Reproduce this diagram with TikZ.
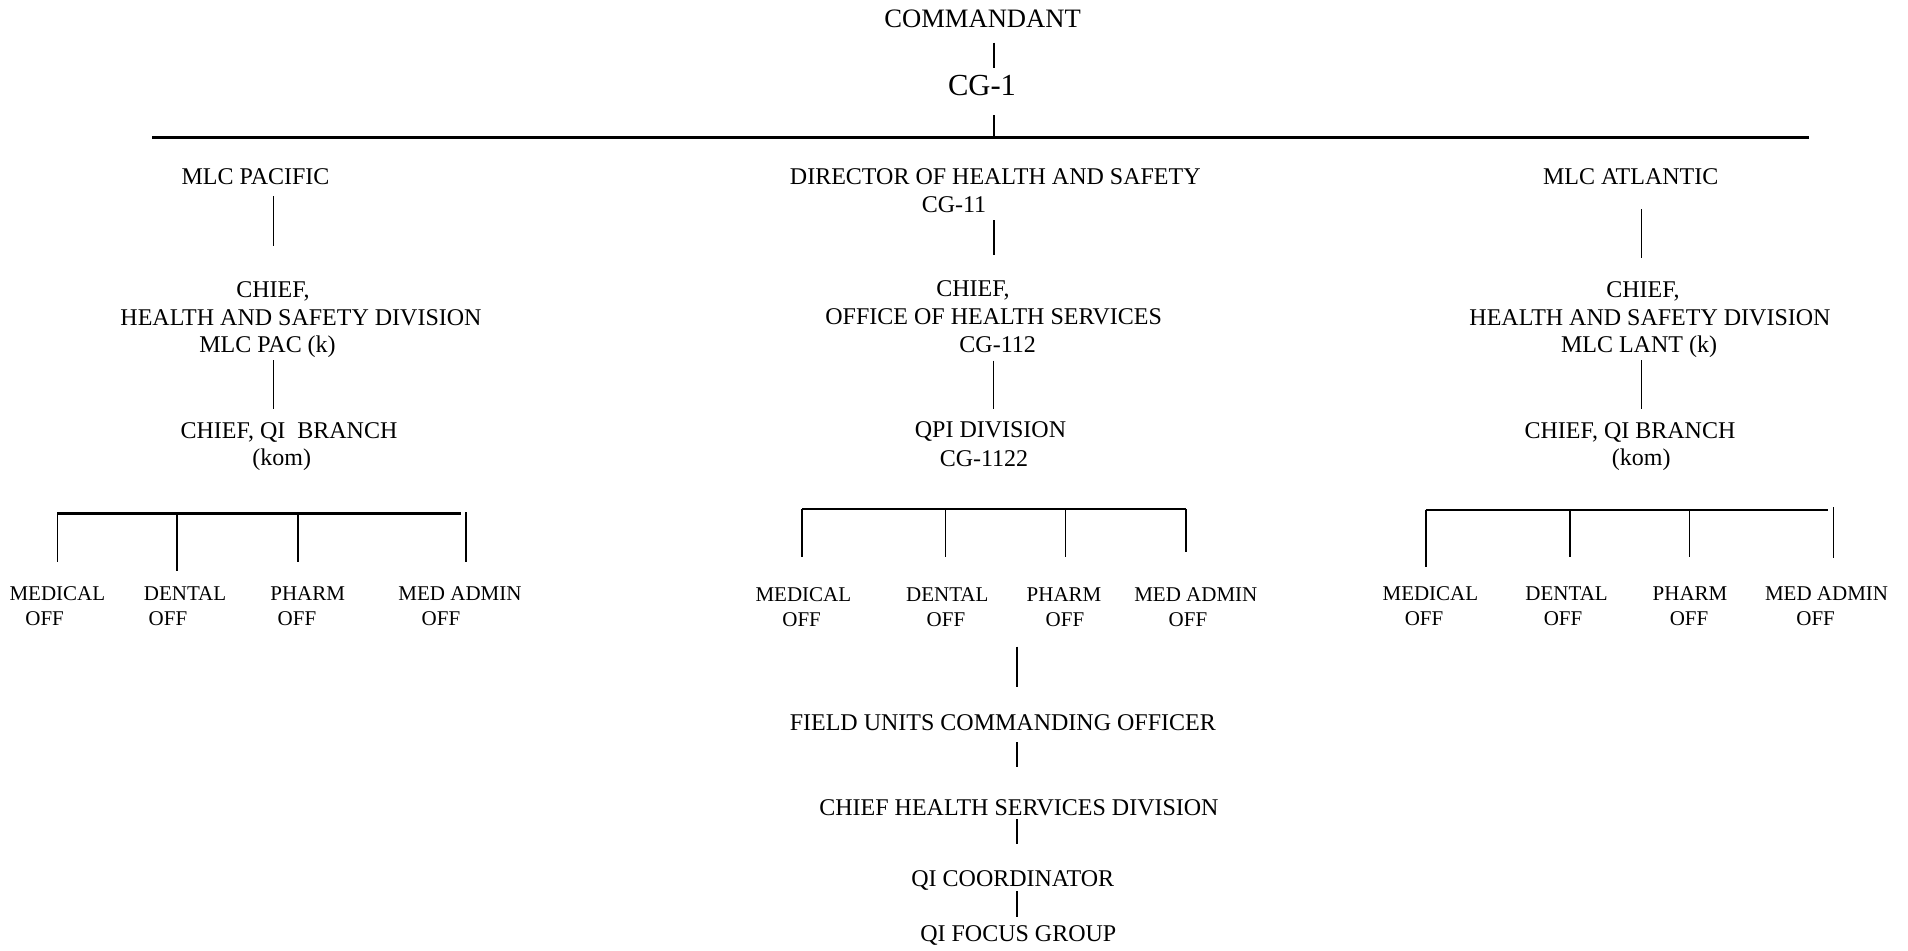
\documentclass[tikz,border=0pt]{standalone}
\usepackage{fontspec}
\setmainfont{Liberation Serif}
\begin{document}
\begin{tikzpicture}[x=0.5pt,y=-0.5pt,
    every node/.style={anchor=base,inner sep=0pt,font=\fontsize{12}{14}\selectfont},
    office/.style={font=\fontsize{10.5}{12}\selectfont},
    link/.style={line width=0.8pt},
    bar/.style={line width=1.2pt}]
\useasboundingbox (0,0) rectangle (1908,950);

% top
\node (comm) at (982.6,27.3) [font=\fontsize{13.3}{16}\selectfont] {COMMANDANT};
\node (cg1) at (982,95.7) [font=\fontsize{15.3}{18}\selectfont] {CG-1};
\coordinate (c1) at (994,42.7); \coordinate (c2) at (994,67.7);
\coordinate (c3) at (994,115); \coordinate (c4) at (994,138);
\coordinate (hl) at (152,137.7); \coordinate (hr) at (1809,137.7);
\draw[link] (c1) -- (c2);
\draw[link] (c3) -- (c4);
\draw[line width=1.3pt] (hl) -- (hr);

% second row
\node (pac) at (255.5,184.3) {MLC PACIFIC};
\node (dir) at (995.3,184.3) {DIRECTOR OF HEALTH AND SAFETY};
\node (cg11) at (954,212.7) {CG-11};
\node (atl) at (1630.7,184.3) {MLC ATLANTIC};

% pacific column
\node (pacchief) at (273,297.7) {CHIEF,};
\node (pachsd) at (301,325) {HEALTH AND SAFETY DIVISION};
\node (pacmlc) at (267.5,352.7) {MLC PAC (k)};
\node (pacqi) at (289,438.3) {CHIEF, QI\ \ BRANCH};
\node (packom) at (281.7,465) {(kom)};
\coordinate (p1) at (273.3,196); \coordinate (p2) at (273.3,245.7);
\coordinate (p3) at (273.3,360); \coordinate (p4) at (273.3,409);
\draw[link] (p1) -- (p2);
\draw[link] (p3) -- (p4);

% headquarters column
\node (ohschief) at (973,296.7) {CHIEF,};
\node (ohs) at (993.7,324.7) {OFFICE OF HEALTH SERVICES};
\node (cg112) at (997.7,352.7) {CG-112};
\node (qpi) at (990.5,437.7) {QPI DIVISION};
\node (cg1122) at (984,466) {CG-1122};
\coordinate (d1) at (994,220); \coordinate (d2) at (994,255);
\coordinate (d3) at (993.3,360.7); \coordinate (d4) at (993.3,409);
\draw[link] (d1) -- (d2);
\draw[link] (d3) -- (d4);

% atlantic column
\node (atlchief) at (1643,297.7) {CHIEF,};
\node (atlhsd) at (1650,325) {HEALTH AND SAFETY DIVISION};
\node (atlmlc) at (1639,352.7) {MLC LANT (k)};
\node (atlqi) at (1630,438.3) {CHIEF, QI BRANCH};
\node (atlkom) at (1641.3,465) {(kom)};
\coordinate (a1) at (1641.3,209.3); \coordinate (a2) at (1641.3,258.3);
\coordinate (a3) at (1641.3,360); \coordinate (a4) at (1641.3,409);
\draw[link] (a1) -- (a2);
\draw[link] (a3) -- (a4);

% offices under each branch
\coordinate (pl) at (57.4,513.3); \coordinate (pr) at (461,513.3);
\draw[bar] (pl) -- (pr);
\foreach \n/\x/\yt/\yb/\txt/\xa/\xb in {1/57.4/513.3/561.7/MEDICAL/57.4/44.6,2/177.2/513.3/571/DENTAL/185/168,
    3/297.7/513.3/561.7/PHARM/307.7/297,4/465.7/512/561.7/MED ADMIN/460/441} {
  \coordinate (pt\n) at (\x,\yt); \coordinate (pb\n) at (\x,\yb);
  \draw[link] (pt\n) -- (pb\n);
  \node[office] (pof\n) at (\xa,600.7) {\txt};
  \node[office] (poff\n) at (\xb,625.7) {OFF};
}

\coordinate (dl) at (802,509); \coordinate (dr) at (1186,509);
\draw[bar] (dl) -- (dr);
\foreach \n/\x/\yb/\txt/\xa/\xb in {1/802/556.7/MEDICAL/803.4/801.6,2/945.6/556.7/DENTAL/947.3/946,
    3/1065.4/556.7/PHARM/1064/1065,4/1186/552/MED ADMIN/1195.8/1188} {
  \coordinate (dt\n) at (\x,509); \coordinate (db\n) at (\x,\yb);
  \draw[link] (dt\n) -- (db\n);
  \node[office] (dof\n) at (\xa,601) {\txt};
  \node[office] (doff\n) at (\xb,626) {OFF};
}

\coordinate (al) at (1425.7,510); \coordinate (ar) at (1828.4,510);
\draw[bar] (al) -- (ar);
\foreach \n/\x/\yt/\yb/\txt/\xa/\xb in {1/1425.7/510/567.3/MEDICAL/1430.4/1424,2/1569.7/510/556.7/DENTAL/1566.6/1563,
    3/1689.3/510/556.7/PHARM/1690/1689,4/1833.6/507/558.3/MED ADMIN/1826.6/1815.6} {
  \coordinate (at\n) at (\x,\yt); \coordinate (ab\n) at (\x,\yb);
  \draw[link] (at\n) -- (ab\n);
  \node[office] (aof\n) at (\xa,600.7) {\txt};
  \node[office] (aoff\n) at (\xb,625.7) {OFF};
}

% field chain
\node (field) at (1002.8,730) {FIELD UNITS COMMANDING OFFICER};
\node (chsd) at (1019,815.7) {CHIEF HEALTH SERVICES DIVISION};
\node (qic) at (1012.8,886.7) {QI COORDINATOR};
\node (qifg) at (1018.3,941) {QI FOCUS GROUP};
\coordinate (f1) at (1016.8,646.7); \coordinate (f2) at (1016.8,687);
\coordinate (f3) at (1016.7,742.3); \coordinate (f4) at (1016.7,767);
\coordinate (f5) at (1016.7,819); \coordinate (f6) at (1016.7,844);
\coordinate (f7) at (1016.7,891); \coordinate (f8) at (1016.7,916.7);
\draw[link] (f1) -- (f2);
\draw[link] (f3) -- (f4);
\draw[link] (f5) -- (f6);
\draw[link] (f7) -- (f8);
\end{tikzpicture}
\end{document}
